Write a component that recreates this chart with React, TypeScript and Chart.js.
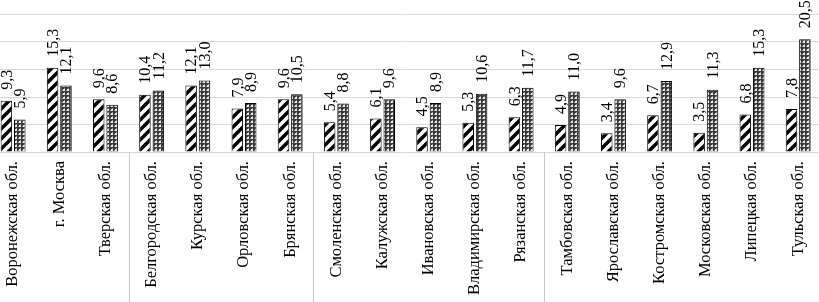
import React, { useEffect, useRef } from "react";
import { Chart, registerables } from "chart.js";

Chart.register(...registerables);

const categories = [
  "Воронежская обл.",
  "г. Москва",
  "Тверская обл.",
  "Белгородская обл.",
  "Курская обл.",
  "Орловская обл.",
  "Брянская обл.",
  "Смоленская обл.",
  "Калужская обл.",
  "Ивановская обл.",
  "Владимирская обл.",
  "Рязанская обл.",
  "Тамбовская обл.",
  "Ярославская обл.",
  "Костромская обл.",
  "Московская обл.",
  "Липецкая обл.",
  "Тульская обл.",
];

const seriesHatched = [9.3, 15.3, 9.6, 10.4, 12.1, 7.9, 9.6, 5.4, 6.1, 4.5, 5.3, 6.3, 4.9, 3.4, 6.7, 3.5, 6.8, 7.8];
const seriesChecked = [5.9, 12.1, 8.6, 11.2, 13.0, 8.9, 10.5, 8.8, 9.6, 8.9, 10.6, 11.7, 11.0, 9.6, 12.9, 11.3, 15.3, 20.5];

// group separators: after these category indices
const groupEnds = [2, 6, 11];

const yMin = 0;
const yMax = 25;
const yStep = 5;

function makeHatch(): CanvasPattern | string {
  const s = 10;
  const c = document.createElement("canvas");
  c.width = s;
  c.height = s;
  const g = c.getContext("2d");
  if (!g) return "#fff";
  g.fillStyle = "#ffffff";
  g.fillRect(0, 0, s, s);
  g.strokeStyle = "#000000";
  g.lineWidth = 3.5;
  g.beginPath();
  g.moveTo(-s, 2 * s);
  g.lineTo(2 * s, -s);
  g.moveTo(-s, s);
  g.lineTo(s, -s);
  g.moveTo(0, 2 * s);
  g.lineTo(2 * s, 0);
  g.stroke();
  const p = g.createPattern(c, "repeat");
  return p || "#fff";
}

function makeCheck(): CanvasPattern | string {
  const s = 4;
  const c = document.createElement("canvas");
  c.width = s;
  c.height = s;
  const g = c.getContext("2d");
  if (!g) return "#888";
  g.fillStyle = "#3a3a3a";
  g.fillRect(0, 0, s, s);
  g.fillStyle = "#e8e8e8";
  g.fillRect(1, 1, 2, 2);
  g.fillStyle = "#9a9a9a";
  g.fillRect(0, 2, 1, 1);
  g.fillRect(2, 0, 1, 1);
  const p = g.createPattern(c, "repeat");
  return p || "#888";
}

const fmt = (v: number) => v.toFixed(1).replace(".", ",");

const valueLabels = {
  id: "valueLabels",
  afterDatasetsDraw(chart: any) {
    const ctx = chart.ctx;
    ctx.save();
    ctx.fillStyle = "#000";
    ctx.font = "16px 'Liberation Serif', 'Times New Roman', serif";
    ctx.textAlign = "left";
    ctx.textBaseline = "middle";
    chart.data.datasets.forEach((ds: any, di: number) => {
      const meta = chart.getDatasetMeta(di);
      meta.data.forEach((el: any, i: number) => {
        const v = ds.data[i];
        ctx.save();
        ctx.translate(el.x + 1, el.y - 11);
        ctx.rotate(-Math.PI / 2);
        ctx.fillText(fmt(v), 0, 0);
        ctx.restore();
      });
    });
    ctx.restore();
  },
};

const separators = {
  id: "separators",
  afterDraw(chart: any) {
    const ctx = chart.ctx;
    const xs = chart.scales.x;
    const top = chart.chartArea.bottom;
    const bottom = chart.height;
    ctx.save();
    ctx.strokeStyle = "#c9c9c9";
    ctx.lineWidth = 1;
    groupEnds.forEach((i) => {
      const x = Math.round((xs.getPixelForValue(i) + xs.getPixelForValue(i + 1)) / 2) + 0.5;
      ctx.beginPath();
      ctx.moveTo(x, top);
      ctx.lineTo(x, bottom);
      ctx.stroke();
    });
    ctx.restore();
  },
};

export default function App() {
  const ref = useRef<HTMLCanvasElement | null>(null);

  useEffect(() => {
    if (!ref.current) return;
    const chart = new Chart(ref.current, {
      type: "bar",
      data: {
        labels: categories,
        datasets: [
          {
            data: seriesHatched,
            backgroundColor: makeHatch() as any,
            borderColor: "#000",
            borderWidth: 1,
            categoryPercentage: 0.58,
            barPercentage: 0.86,
          },
          {
            data: seriesChecked,
            backgroundColor: makeCheck() as any,
            borderColor: "#000",
            borderWidth: 1,
            categoryPercentage: 0.58,
            barPercentage: 0.86,
          },
        ],
      },
      options: {
        responsive: false,
        animation: false,
        devicePixelRatio: 1,
        layout: { padding: { top: 14.5, left: 0, right: 0, bottom: 0 } },
        plugins: {
          legend: { display: false },
          tooltip: { enabled: false },
        },
        scales: {
          x: {
            grid: { display: false, drawTicks: false },
            border: { display: false },
            ticks: {
              autoSkip: false,
              minRotation: 90,
              maxRotation: 90,
              padding: 9,
              color: "#000",
              font: { family: "'Liberation Serif', 'Times New Roman', serif", size: 16.5 },
            },
            afterFit(scale: any) {
              scale.height = 150;
            },
          },
          y: {
            min: yMin,
            max: yMax,
            ticks: { display: false, stepSize: yStep },
            grid: { color: "#d9d9d9", drawTicks: false, lineWidth: 1 },
            border: { display: false },
            afterFit(scale: any) {
              scale.width = 0;
            },
          },
        },
      },
      plugins: [valueLabels, separators],
    });
    return () => chart.destroy();
  }, []);

  return (
    <div style={{ position: "absolute", left: -10, top: 0, width: 837, height: 302 }}>
      <canvas ref={ref} width={837} height={302} />
    </div>
  );
}
